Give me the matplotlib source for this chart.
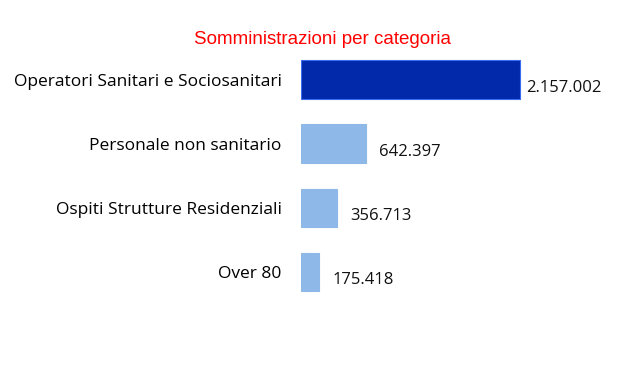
import matplotlib.pyplot as plt

categorie = ['Operatori Sanitari e Sociosanitari', 'Personale non sanitario',
             'Ospiti Strutture Residenziali', 'Over 80']
valori = [2157002, 642397, 356713, 175418]
etichette = ['2.157.002', '642.397', '356.713', '175.418']
colori = ['#0229a9', '#8db8e8', '#8db8e8', '#8db8e8']
bordi = ['#3a6cf0', '#8db8e8', '#8db8e8', '#8db8e8']

fig = plt.figure(figsize=(6.28, 3.65), dpi=100)
ax = fig.add_axes([301 / 628, 1 - 304 / 365, 300 / 628, 256.5 / 365])

y = range(len(categorie))
ax.barh(y, valori, height=0.6, color=colori, edgecolor=bordi, linewidth=0.8)
ax.set_xlim(0, 2157002 * 300 / 219)
ax.set_ylim(3.5, -0.5)

offset = [6, 13, 13, 14]
for i, v in enumerate(valori):
    ax.annotate(etichette[i], (v, i), xytext=(offset[i] * 0.72, -8 * 0.72),
                textcoords='offset points', ha='left', va='center',
                fontsize=12, family='Open Sans', color='#111111')

ax.set_yticks(list(y))
ax.set_yticklabels(categorie, fontsize=12.5, family='Open Sans')
ax.tick_params(axis='y', length=0, pad=14)
ax.set_xticks([])
for s in ax.spines.values():
    s.set_visible(False)

fig.text(322 / 628, 1 - 39 / 365, 'Somministrazioni per categoria', color='red',
         fontsize=13.5, family='Liberation Sans', ha='center', va='center')

plt.savefig('out.png', dpi=100)
